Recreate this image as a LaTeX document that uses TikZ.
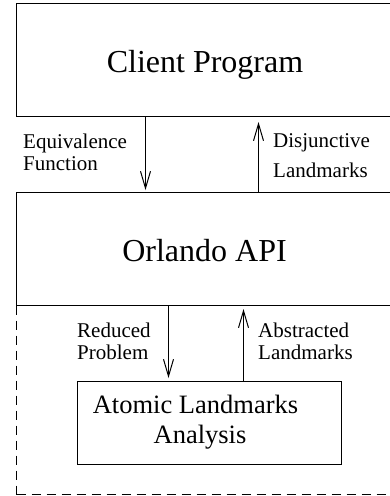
\documentclass[tikz,border=0pt]{standalone}
\usepackage{fontspec}
\setmainfont{Liberation Serif}
\newfontfamily\labelfont{Liberation Serif}
\usetikzlibrary{arrows.meta}

\begin{document}
\begin{tikzpicture}[x=1pt,y=-1pt,
  box/.style={draw, line width=1pt, inner sep=0pt, anchor=north west},
  frame/.style={draw, line width=1pt, dash pattern=on 9pt off 6pt, inner sep=0pt, anchor=north west},
  big/.style={anchor=base, inner sep=0pt, font=\labelfont\fontsize{32}{37}\selectfont},
  mid/.style={anchor=base, inner sep=0pt, font=\labelfont\fontsize{26.5}{31}\selectfont},
  small/.style={anchor=base west, inner sep=0pt, font=\labelfont\fontsize{21}{25}\selectfont},
  flow/.style={line width=1pt, -{Straight Barb[length=17pt,width=10pt,line width=1pt]}}]

\useasboundingbox (0,0) rectangle (390,496);
\clip (0,0) rectangle (390,496);

% dashed frame around the API internals
\node[frame, minimum width=378pt, minimum height=189pt] (core) at (16,305) {};

% main boxes
\node[box, minimum width=378pt, minimum height=113pt, fill=white] (client) at (16,3) {};
\node[box, minimum width=378pt, minimum height=113pt, fill=white] (orlando) at (16,192) {};
\node[box, minimum width=264pt, minimum height=83pt] (atomic) at (77,381) {};

% box titles
\node[big] (tclient) at (205,72.7) {Client Program};
\node[big] (torlando) at (204.5,261.7) {Orlando API};
\node[mid] (tatomic1) at (195.5,413) {Atomic Landmarks};
\node[mid] (tatomic2) at (200,443) {Analysis};

% connector labels
\node[small] (l1a) at (23,148) {Equivalence};
\node[small] (l1b) at (23,170) {Function};
\node[small] (l2a) at (273,147) {Disjunctive};
\node[small] (l2b) at (273,177) {Landmarks};
\node[small] (l3a) at (77,337) {Reduced};
\node[small] (l3b) at (77,359) {Problem};
\node[small] (l4a) at (258,337) {Abstracted};
\node[small] (l4b) at (258,359) {Landmarks};

% connectors
\draw[flow, shorten >=2pt] ([xshift=-60pt]client.south) -- ([xshift=-60pt]orlando.north);
\draw[flow, shorten >=5pt] ([xshift=53pt]orlando.north) -- ([xshift=53pt]client.south);
\draw[flow, shorten >=3pt] ([xshift=-37pt]orlando.south) -- ([xshift=-41pt]atomic.north);
\draw[flow, shorten >=3pt] ([xshift=34pt]atomic.north) -- ([xshift=38pt]orlando.south);

\end{tikzpicture}
\end{document}
